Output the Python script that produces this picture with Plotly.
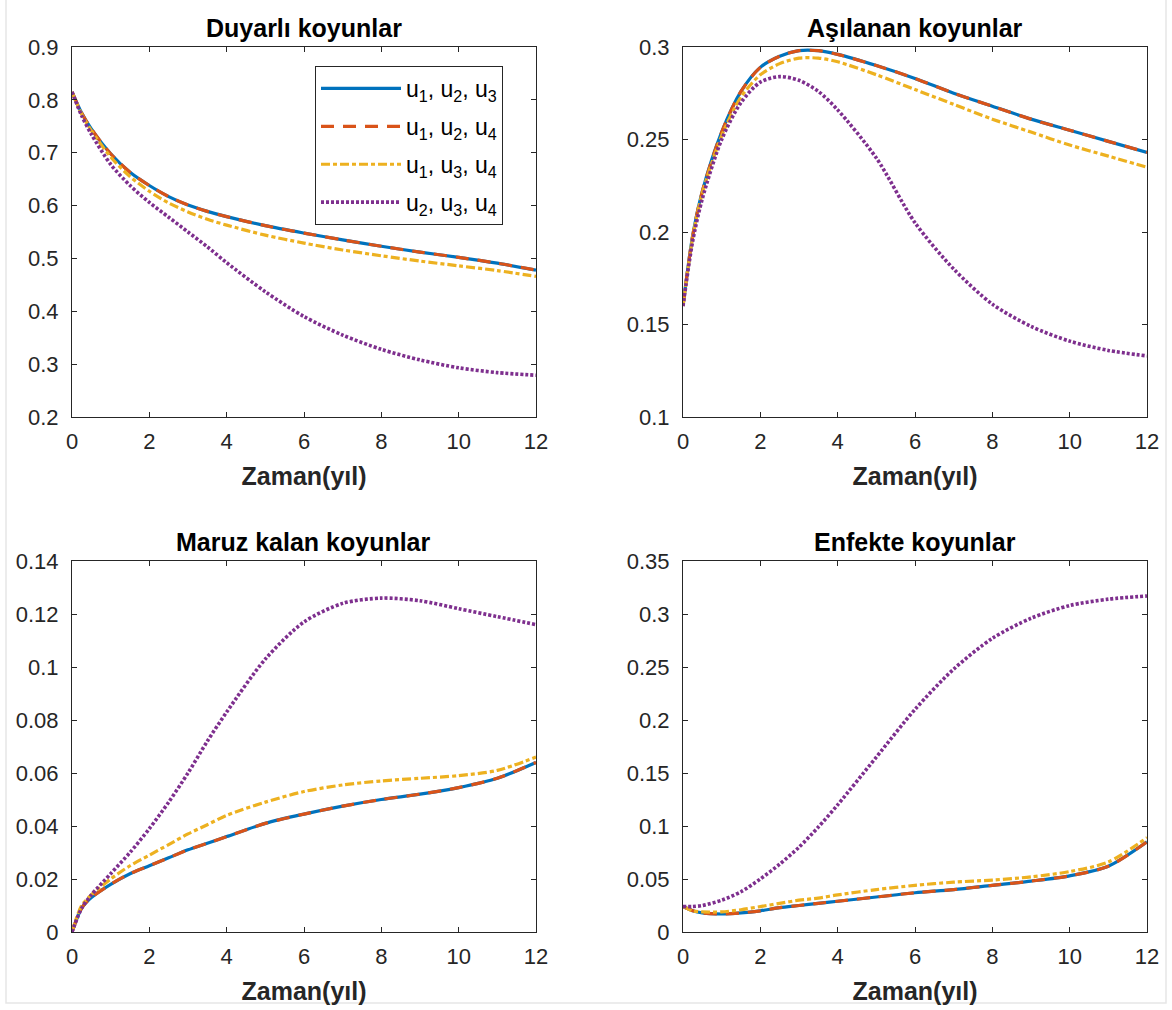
import plotly.graph_objects as go

# ---------------- data ----------------
T = [0, 0.25, 0.5, 1, 1.5, 2, 2.5, 3, 3.5, 4, 5, 6, 7, 8, 9, 10, 11, 12]

series_names = ["u<sub>1</sub>, u<sub>2</sub>, u<sub>3</sub>",
                "u<sub>1</sub>, u<sub>2</sub>, u<sub>4</sub>",
                "u<sub>1</sub>, u<sub>3</sub>, u<sub>4</sub>",
                "u<sub>2</sub>, u<sub>3</sub>, u<sub>4</sub>"]

panel_titles = ["Duyarlı koyunlar", "Aşılanan koyunlar", "Maruz kalan koyunlar", "Enfekte koyunlar"]

# Duyarlı koyunlar
S_u123 = [.815, .775, .745, .698, .663, .638, .617, .601, .589, .579, .562, .548, .535, .523, .512, .502, .491, .478]
S_u124 = [.815, .775, .745, .698, .663, .638, .617, .601, .589, .579, .562, .548, .535, .523, .512, .502, .491, .478]
S_u134 = [.815, .773, .742, .692, .655, .627, .605, .588, .574, .563, .544, .529, .516, .505, .495, .486, .477, .466]
S_u234 = [.815, .770, .735, .678, .638, .606, .578, .550, .522, .492, .437, .390, .355, .328, .308, .293, .284, .279]

# Aşılanan koyunlar
V_u123 = [.160, .198, .222, .254, .276, .289, .295, .298, .298, .296, .290, .283, .275, .268, .261, .255, .249, .243]
V_u124 = [.160, .198, .222, .254, .276, .289, .295, .298, .298, .296, .290, .283, .275, .268, .261, .255, .249, .243]
V_u134 = [.160, .197, .221, .252, .273, .285, .291, .294, .294, .292, .285, .277, .269, .261, .254, .247, .241, .235]
V_u234 = [.160, .195, .218, .250, .270, .281, .284, .282, .276, .266, .240, .205, .180, .161, .149, .141, .136, .133]

# Maruz kalan koyunlar
E_u123 = [0, .009, .013, .018, .022, .025, .028, .031, .0335, .036, .041, .0445, .0475, .050, .052, .0545, .058, .064]
E_u124 = [0, .009, .013, .018, .022, .025, .028, .031, .0335, .036, .041, .0445, .0475, .050, .052, .0545, .058, .064]
E_u134 = [0, .010, .014, .020, .025, .029, .033, .037, .0405, .044, .049, .053, .0555, .057, .058, .059, .061, .066]
E_u234 = [0, .009, .014, .022, .030, .039, .049, .060, .072, .083, .103, .117, .124, .126, .125, .122, .119, .116]

# Enfekte koyunlar
I_u123 = [.024, .020, .018, .017, .018, .020, .023, .025, .027, .029, .033, .037, .040, .044, .048, .053, .062, .085]
I_u124 = [.024, .020, .018, .017, .018, .020, .023, .025, .027, .029, .033, .037, .040, .044, .048, .053, .062, .085]
I_u134 = [.024, .020, .019, .019, .021, .024, .027, .030, .032, .035, .040, .044, .047, .049, .052, .057, .066, .089]
I_u234 = [.024, .024, .025, .030, .038, .050, .064, .080, .099, .120, .165, .210, .248, .277, .296, .308, .314, .317]

x_ticks = [0, 2, 4, 6, 8, 10, 12]
y_ranges = [[0.2, 0.9], [0.1, 0.3], [0, 0.14], [0, 0.35]]
y_dticks = [0.1, 0.05, 0.02, 0.05]

panels = [[S_u123, S_u124, S_u134, S_u234],
          [V_u123, V_u124, V_u134, V_u234],
          [E_u123, E_u124, E_u134, E_u234],
          [I_u123, I_u124, I_u134, I_u234]]

# ---------------- style ----------------
W, H = 1172, 1010
colors = ["#0072BD", "#D95319", "#EDB120", "#7E2F8E"]
dashes = ["solid", "13px,9px", "9px,3px,4px,3px", "3px,2px"]
widths = [3.2, 3.2, 3.2, 3.6]
FONT = "Liberation Sans, Arial, sans-serif"
AX = "#262626"

# axis boxes in pixels (left, right, top, bottom)
boxes = [(72, 536, 47, 417), (683, 1147, 47, 417),
         (72, 536, 561, 932), (683, 1147, 561, 932)]

fig = go.Figure()
layout = dict(width=W, height=H, autosize=False,
              margin=dict(l=0, r=0, t=0, b=0, pad=0),
              paper_bgcolor="white", plot_bgcolor="white",
              font=dict(family=FONT, color=AX, size=22),
              showlegend=True)

annotations = []
for p in range(4):
    l, r, t, b = boxes[p]
    xa = "xaxis" if p == 0 else f"xaxis{p+1}"
    ya = "yaxis" if p == 0 else f"yaxis{p+1}"
    xr = "x" if p == 0 else f"x{p+1}"
    yr = "y" if p == 0 else f"y{p+1}"
    layout[xa] = dict(domain=[l / W, r / W], anchor=yr, range=[0, 12], automargin=False,
                      tickmode="array", tickvals=x_ticks,
                      ticks="inside", ticklen=5, tickcolor=AX, tickwidth=1,
                      showline=True, linecolor=AX, linewidth=1, mirror="ticks",
                      showgrid=False, zeroline=False, ticklabelstandoff=5,
                      tickfont=dict(size=22, color=AX, family=FONT),
                      title=dict(text="<b>Zaman(yıl)</b>", standoff=14,
                                 font=dict(size=25, color=AX, family=FONT)))
    layout[ya] = dict(domain=[1 - b / H, 1 - t / H], anchor=xr, range=y_ranges[p], automargin=False,
                      dtick=y_dticks[p], tick0=0,
                      ticks="inside", ticklen=5, tickcolor=AX, tickwidth=1,
                      showline=True, linecolor=AX, linewidth=1, mirror="ticks",
                      showgrid=False, zeroline=False, ticklabelstandoff=8,
                      tickfont=dict(size=22, color=AX, family=FONT))
    annotations.append(dict(text="<b>" + panel_titles[p] + "</b>", xref="paper", yref="paper",
                            x=(l + r) / 2 / W, y=1 - (t - 3) / H, xanchor="center", yanchor="bottom",
                            showarrow=False, font=dict(size=25, color="black", family=FONT)))
    for k in range(4):
        fig.add_trace(go.Scatter(x=T, y=panels[p][k], mode="lines", name=series_names[k],
                                 legendgroup=f"g{k}", showlegend=(p == 0),
                                 xaxis=xr, yaxis=yr,
                                 line=dict(color=colors[k], width=widths[k], dash=dashes[k],
                                           shape="spline", smoothing=0.8)))

layout["annotations"] = annotations
layout["legend"] = dict(x=315 / W, y=1 - 66 / H, xanchor="left", yanchor="top",
                        bgcolor="white", bordercolor=AX, borderwidth=1,
                        font=dict(size=23, color="black", family=FONT),
                        tracegroupgap=5, itemwidth=80)
layout["shapes"] = [dict(type="rect", xref="paper", yref="paper",
                         x0=6 / W, x1=1166 / W, y0=(H - 1003) / H, y1=1.02,
                         line=dict(color="#e6e6e6", width=1.5), layer="below")]
fig.update_layout(**layout)
fig.write_html("out.html")
